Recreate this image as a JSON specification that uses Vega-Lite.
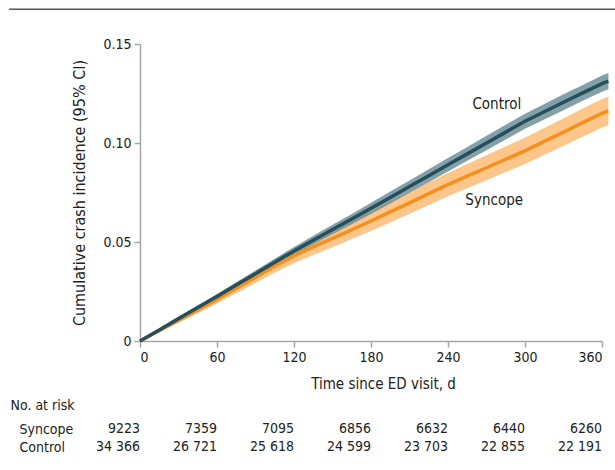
{
  "$schema": "https://vega.github.io/schema/vega-lite/v6.json",
  "padding": {"left": 8, "top": 8, "right": 0, "bottom": 0},
  "bounds": "flush",
  "spacing": 88,
  "config": {
    "view": {"stroke": null},
    "font": "Liberation Sans Narrow, DejaVu Sans Condensed, Roboto, sans-serif",
    "axis": {
      "labelFont": "Liberation Sans Narrow, DejaVu Sans Condensed, Roboto, sans-serif",
      "titleFont": "Liberation Sans Narrow, DejaVu Sans Condensed, Roboto, sans-serif",
      "labelFontSize": 14,
      "titleFontSize": 15,
      "titleFontWeight": "normal",
      "labelColor": "#222222",
      "titleColor": "#222222",
      "domainColor": "#a6a6a6",
      "domainWidth": 1.5,
      "tickColor": "#a6a6a6",
      "tickWidth": 1.5,
      "tickSize": 6,
      "gridColor": "#dcdcdc",
      "gridWidth": 1.5
    },
    "text": {"font": "Liberation Sans Narrow, DejaVu Sans Condensed, Roboto, sans-serif"}
  },
  "datasets": {
    "curves": [
      {"group": "Control", "day": 0, "est": 0, "lo": 0, "hi": 0},
      {"group": "Control", "day": 15, "est": 0.0056, "lo": 0.0051, "hi": 0.0061},
      {"group": "Control", "day": 30, "est": 0.0113, "lo": 0.0105, "hi": 0.0121},
      {"group": "Control", "day": 45, "est": 0.0169, "lo": 0.0159, "hi": 0.0179},
      {"group": "Control", "day": 60, "est": 0.0225, "lo": 0.0213, "hi": 0.0237},
      {"group": "Control", "day": 75, "est": 0.0283, "lo": 0.0269, "hi": 0.0297},
      {"group": "Control", "day": 90, "est": 0.0340, "lo": 0.0324, "hi": 0.0356},
      {"group": "Control", "day": 105, "est": 0.0398, "lo": 0.0380, "hi": 0.0416},
      {"group": "Control", "day": 120, "est": 0.0455, "lo": 0.0435, "hi": 0.0475},
      {"group": "Control", "day": 135, "est": 0.0509, "lo": 0.0487, "hi": 0.0531},
      {"group": "Control", "day": 150, "est": 0.0563, "lo": 0.0539, "hi": 0.0587},
      {"group": "Control", "day": 165, "est": 0.0616, "lo": 0.0590, "hi": 0.0642},
      {"group": "Control", "day": 180, "est": 0.0670, "lo": 0.0642, "hi": 0.0698},
      {"group": "Control", "day": 195, "est": 0.0725, "lo": 0.0695, "hi": 0.0755},
      {"group": "Control", "day": 210, "est": 0.0780, "lo": 0.0749, "hi": 0.0811},
      {"group": "Control", "day": 225, "est": 0.0835, "lo": 0.0802, "hi": 0.0868},
      {"group": "Control", "day": 240, "est": 0.0890, "lo": 0.0856, "hi": 0.0924},
      {"group": "Control", "day": 255, "est": 0.0945, "lo": 0.0910, "hi": 0.0980},
      {"group": "Control", "day": 270, "est": 0.1000, "lo": 0.0964, "hi": 0.1036},
      {"group": "Control", "day": 285, "est": 0.1055, "lo": 0.1018, "hi": 0.1092},
      {"group": "Control", "day": 300, "est": 0.1110, "lo": 0.1072, "hi": 0.1148},
      {"group": "Control", "day": 315, "est": 0.1158, "lo": 0.1119, "hi": 0.1197},
      {"group": "Control", "day": 330, "est": 0.1206, "lo": 0.1166, "hi": 0.1246},
      {"group": "Control", "day": 345, "est": 0.1253, "lo": 0.1213, "hi": 0.1293},
      {"group": "Control", "day": 360, "est": 0.1300, "lo": 0.1259, "hi": 0.1341},
      {"group": "Control", "day": 365, "est": 0.1312, "lo": 0.1271, "hi": 0.1353},
      {"group": "Syncope", "day": 0, "est": 0, "lo": 0, "hi": 0},
      {"group": "Syncope", "day": 15, "est": 0.0052, "lo": 0.0044, "hi": 0.0060},
      {"group": "Syncope", "day": 30, "est": 0.0105, "lo": 0.0092, "hi": 0.0118},
      {"group": "Syncope", "day": 45, "est": 0.0157, "lo": 0.0140, "hi": 0.0174},
      {"group": "Syncope", "day": 60, "est": 0.0210, "lo": 0.0189, "hi": 0.0231},
      {"group": "Syncope", "day": 75, "est": 0.0266, "lo": 0.0241, "hi": 0.0291},
      {"group": "Syncope", "day": 90, "est": 0.0322, "lo": 0.0293, "hi": 0.0351},
      {"group": "Syncope", "day": 105, "est": 0.0378, "lo": 0.0345, "hi": 0.0411},
      {"group": "Syncope", "day": 120, "est": 0.0430, "lo": 0.0393, "hi": 0.0467},
      {"group": "Syncope", "day": 135, "est": 0.0475, "lo": 0.0434, "hi": 0.0516},
      {"group": "Syncope", "day": 150, "est": 0.0518, "lo": 0.0474, "hi": 0.0562},
      {"group": "Syncope", "day": 165, "est": 0.0562, "lo": 0.0515, "hi": 0.0609},
      {"group": "Syncope", "day": 180, "est": 0.0606, "lo": 0.0556, "hi": 0.0656},
      {"group": "Syncope", "day": 195, "est": 0.0652, "lo": 0.0599, "hi": 0.0705},
      {"group": "Syncope", "day": 210, "est": 0.0698, "lo": 0.0643, "hi": 0.0753},
      {"group": "Syncope", "day": 225, "est": 0.0744, "lo": 0.0687, "hi": 0.0801},
      {"group": "Syncope", "day": 240, "est": 0.0790, "lo": 0.0731, "hi": 0.0849},
      {"group": "Syncope", "day": 255, "est": 0.0833, "lo": 0.0772, "hi": 0.0894},
      {"group": "Syncope", "day": 270, "est": 0.0875, "lo": 0.0812, "hi": 0.0938},
      {"group": "Syncope", "day": 285, "est": 0.0918, "lo": 0.0853, "hi": 0.0983},
      {"group": "Syncope", "day": 300, "est": 0.0960, "lo": 0.0894, "hi": 0.1026},
      {"group": "Syncope", "day": 315, "est": 0.1008, "lo": 0.0940, "hi": 0.1076},
      {"group": "Syncope", "day": 330, "est": 0.1055, "lo": 0.0986, "hi": 0.1124},
      {"group": "Syncope", "day": 345, "est": 0.1103, "lo": 0.1032, "hi": 0.1174},
      {"group": "Syncope", "day": 360, "est": 0.1150, "lo": 0.1078, "hi": 0.1222},
      {"group": "Syncope", "day": 365, "est": 0.1162, "lo": 0.1090, "hi": 0.1234}
    ],
    "labels": [
      {"label": "Control", "day": 278, "value": 0.1197},
      {"label": "Syncope", "day": 276, "value": 0.0712}
    ],
    "risk": [
      {"group": "Syncope", "day": 0, "n": "9223"},
      {"group": "Syncope", "day": 60, "n": "7359"},
      {"group": "Syncope", "day": 120, "n": "7095"},
      {"group": "Syncope", "day": 180, "n": "6856"},
      {"group": "Syncope", "day": 240, "n": "6632"},
      {"group": "Syncope", "day": 300, "n": "6440"},
      {"group": "Syncope", "day": 360, "n": "6260"},
      {"group": "Control", "day": 0, "n": "34 366"},
      {"group": "Control", "day": 60, "n": "26 721"},
      {"group": "Control", "day": 120, "n": "25 618"},
      {"group": "Control", "day": 180, "n": "24 599"},
      {"group": "Control", "day": 240, "n": "23 703"},
      {"group": "Control", "day": 300, "n": "22 855"},
      {"group": "Control", "day": 360, "n": "22 191"}
    ]
  },
  "vconcat": [
    {
      "width": 462,
      "height": 297,
      "layer": [
        {
          "data": {"values": [{"edge": "top"}]},
          "mark": {"type": "rule", "color": "#555555", "strokeWidth": 1.5},
          "encoding": {
            "x": {"datum": -102},
            "x2": {"datum": 372},
            "y": {"datum": 0.1675}
          }
        },
        {
          "data": {"name": "curves"},
          "transform": [{"filter": "datum.group == 'Syncope'"}],
          "mark": {"type": "area", "color": "#fdc68a", "opacity": 1},
          "encoding": {
            "x": {"field": "day", "type": "quantitative", "scale": {"domain": [0, 360], "nice": false},
              "axis": {"values": [0, 60, 120, 180, 240, 300, 360], "grid": false, "title": "Time since ED visit, d", "labelPadding": 3, "titleX": 243, "titleY": 47, "titleBaseline": "alphabetic"}},
            "y": {"field": "lo", "type": "quantitative", "scale": {"domain": [0, 0.15], "nice": false},
              "axis": {"values": [0, 0.05, 0.1, 0.15], "labelExpr": "datum.value == 0 ? '0' : format(datum.value, '.2f')", "title": "Cumulative crash incidence (95% CI)", "titleFontSize": 16, "titlePadding": 15, "labelPadding": 3}},
            "y2": {"field": "hi"}
          }
        },
        {
          "data": {"name": "curves"},
          "transform": [{"filter": "datum.group == 'Control'"}],
          "mark": {"type": "area", "color": "#6f8f99", "opacity": 0.85},
          "encoding": {
            "x": {"field": "day", "type": "quantitative"},
            "y": {"field": "lo", "type": "quantitative"},
            "y2": {"field": "hi"}
          }
        },
        {
          "data": {"name": "curves"},
          "transform": [{"filter": "datum.group == 'Syncope'"}],
          "mark": {"type": "line", "color": "#f5901e", "strokeWidth": 3.5},
          "encoding": {
            "x": {"field": "day", "type": "quantitative"},
            "y": {"field": "est", "type": "quantitative"}
          }
        },
        {
          "data": {"name": "curves"},
          "transform": [{"filter": "datum.group == 'Control'"}],
          "mark": {"type": "line", "color": "#254f5c", "strokeWidth": 3.5},
          "encoding": {
            "x": {"field": "day", "type": "quantitative"},
            "y": {"field": "est", "type": "quantitative"}
          }
        },
        {
          "data": {"name": "labels"},
          "mark": {"type": "text", "fontSize": 15, "color": "#222222", "align": "center", "baseline": "middle"},
          "encoding": {
            "x": {"field": "day", "type": "quantitative"},
            "y": {"field": "value", "type": "quantitative"},
            "text": {"field": "label"}
          }
        }
      ]
    },
    {
      "width": 462,
      "height": 18,
      "data": {"name": "risk"},
      "mark": {"type": "text", "fontSize": 14, "color": "#222222", "align": "right", "baseline": "middle"},
      "encoding": {
        "x": {"field": "day", "type": "quantitative", "scale": {"domain": [0, 360], "nice": false}, "axis": null},
        "y": {"field": "group", "type": "nominal", "scale": {"type": "point", "padding": 0, "domain": ["Syncope", "Control"]},
          "axis": {"domain": false, "ticks": false, "tickSize": 0, "grid": false, "labelAlign": "left", "labelPadding": 121, "labelBaseline": "middle",
            "title": "No. at risk", "titleAngle": 0, "titleAlign": "left", "titleBaseline": "middle", "titleX": -130, "titleY": -24, "titleFontSize": 14}},
        "text": {"field": "n"}
      }
    }
  ]
}
